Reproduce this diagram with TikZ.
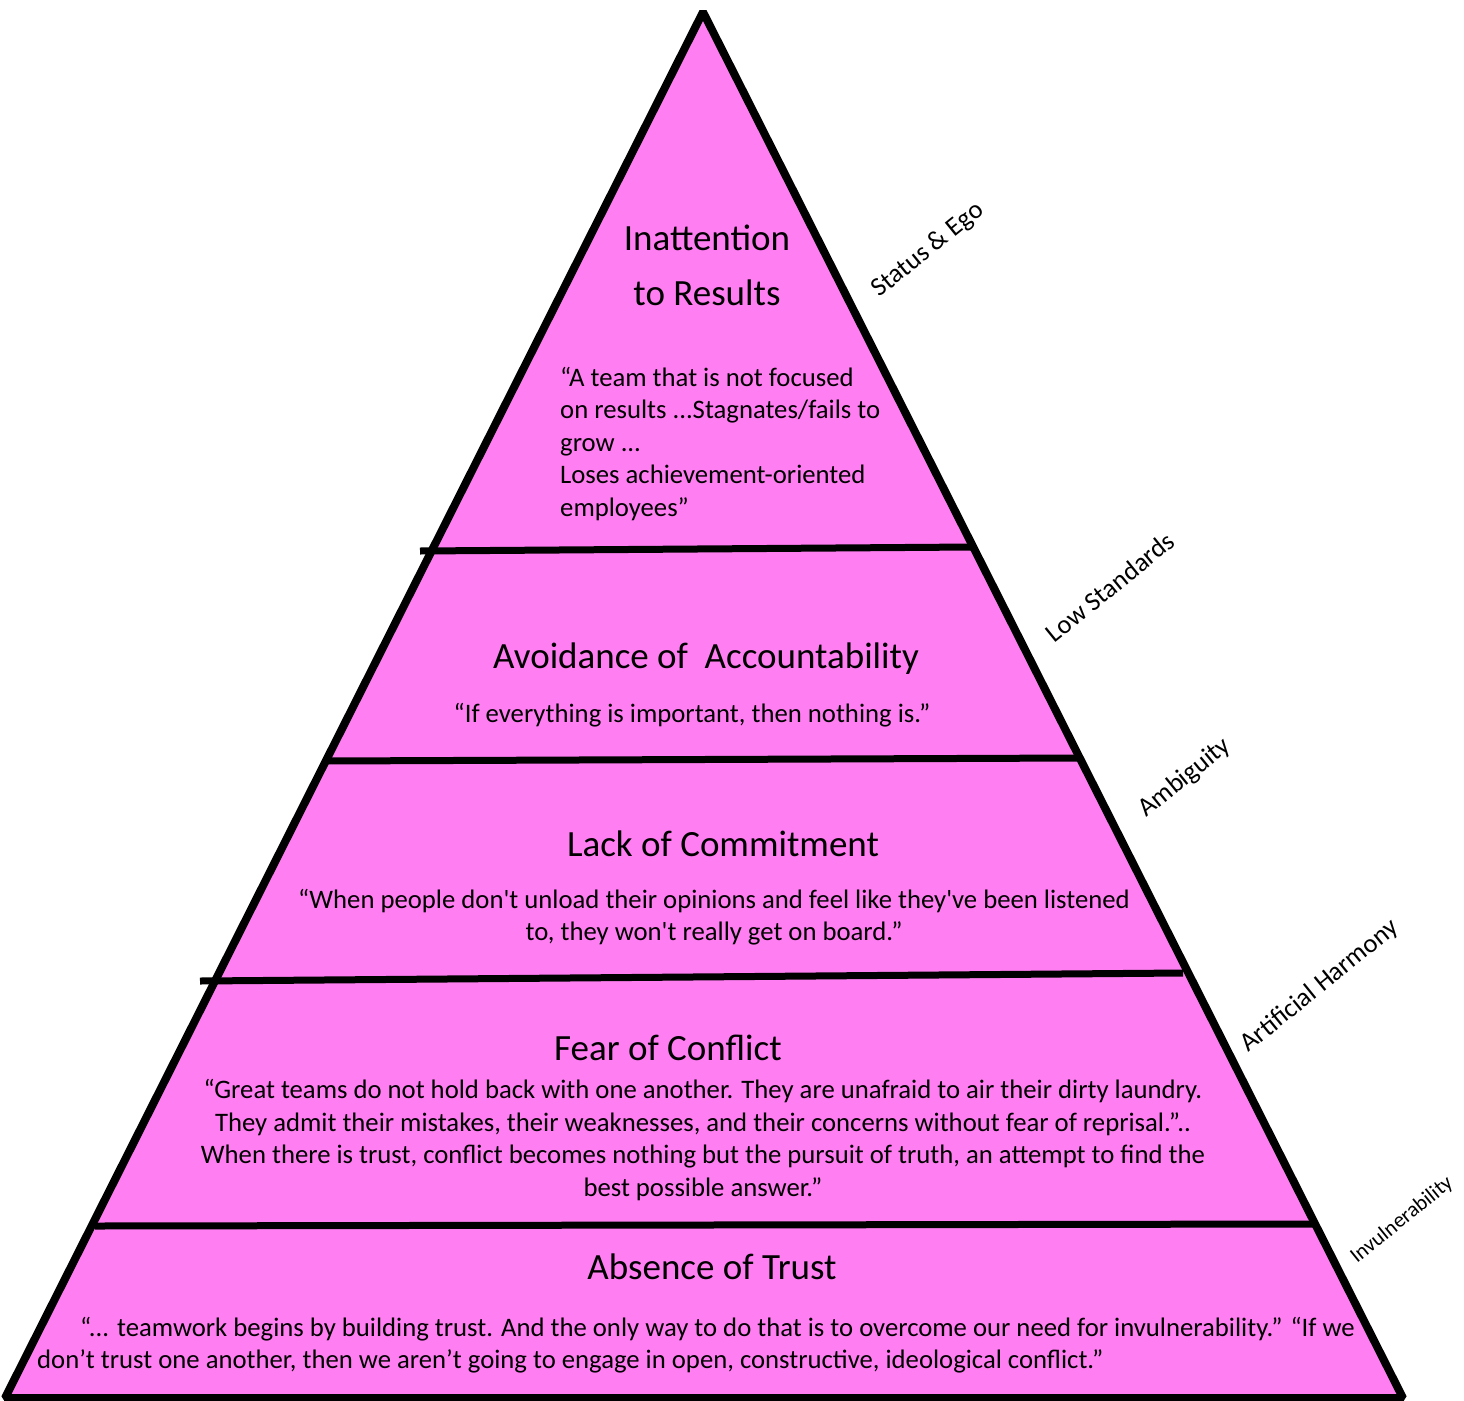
\documentclass[tikz,border=0pt]{standalone}
\usepackage{fontspec}
\setmainfont{Carlito}[Ligatures=TeXOff]
\definecolor{pyr}{RGB}{255,127,242}
\begin{document}
\begin{tikzpicture}[x=1pt,y=-1pt,
  edge/.style={line width=8pt,line join=bevel},
  divider/.style={line width=7pt},
  title/.style={font=\fontsize{37}{44}\selectfont,inner sep=0pt},
  body/.style={font=\fontsize{26.7}{32.5}\selectfont,inner sep=0pt},
  side/.style={font=\fontsize{26.5}{30}\selectfont,rotate=39,inner sep=0pt}]
\useasboundingbox (0,0) rectangle (1464,1400);
\coordinate (apex) at (703,12);
\coordinate (bl) at (5,1398);
\coordinate (br) at (1403,1398);
\filldraw[edge,fill=pyr] (apex) -- (br) -- (bl) -- cycle;
% dividers
\coordinate (d1l) at (420,551); \coordinate (d1r) at (973,547);
\coordinate (d2l) at (325,761); \coordinate (d2r) at (1080,758);
\coordinate (d3l) at (200,981); \coordinate (d3r) at (1183,973);
\coordinate (d4l) at (95,1226); \coordinate (d4r) at (1313,1224);
\draw[divider] (d1l) -- (d1r);
\draw[divider] (d2l) -- (d2r);
\draw[divider] (d3l) -- (d3r);
\draw[divider] (d4l) -- (d4r);
% level 5
\node[title] (t5a) at (707,238) {Inattention};
\node[title] (t5b) at (707,293) {to Results};
\node[body,anchor=north west,align=left] (q5) at (560,367) {“A team that is not focused\\on results ...Stagnates/fails to\\grow ...\\Loses achievement-oriented\\employees”};
% level 4
\node[title] (t4) at (706,659) {Avoidance of\ \ Accountability};
\node[body] (q4) at (692,715) {“If everything is important, then nothing is.”};
% level 3
\node[title] (t3) at (723,844) {Lack of Commitment};
\node[body,align=center] (q3) at (714,917) {“When people don't unload their opinions and feel like they've been listened\\to, they won't really get on board.”};
% level 2
\node[title] (t2) at (668,1048) {Fear of Conflict};
\node[body,align=center] (q2) at (703,1140) {“Great teams do not hold back with one another. They are unafraid to air their dirty laundry.\\They admit their mistakes, their weaknesses, and their concerns without fear of reprisal.”..\\When there is trust, conflict becomes nothing but the pursuit of truth, an attempt to find the\\best possible answer.”};
% level 1
\node[title] (t1) at (712,1267) {Absence of Trust};
\node[body,anchor=west] (q1a) at (80,1329) {“... teamwork begins by building trust. And the only way to do that is to overcome our need for invulnerability.” “If we};
\node[body,anchor=west] (q1b) at (37,1361) {don’t trust one another, then we aren’t going to engage in open, constructive, ideological conflict.”};
% side labels
\node[side] (s5) at (928,250) {Status \& Ego};
\node[side] (s4) at (1110,587) {Low Standards};
\node[side] (s3) at (1185,778) {Ambiguity};
\node[side] (s2) at (1320,986) {Artificial Harmony};
\node[side,font=\fontsize{21.5}{24}\selectfont] (s1) at (1402,1220) {Invulnerability};
\end{tikzpicture}
\end{document}
